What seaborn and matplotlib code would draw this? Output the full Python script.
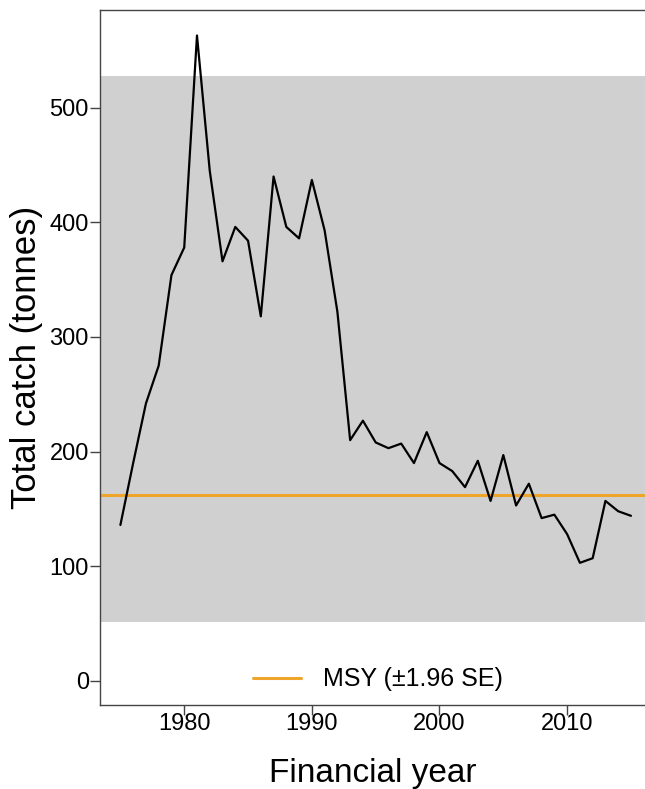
"""Total catch by financial year against MSY."""

import matplotlib
matplotlib.use("Agg")
import matplotlib.pyplot as plt
import numpy as np
import pandas as pd
import seaborn as sns

years = list(range(1975, 2016))
catch = [
    136, 190, 242, 275, 354, 378, 563, 445, 366, 396,
    384, 318, 440, 396, 386, 437, 393, 322, 210, 227,
    208, 203, 207, 190, 217, 190, 183, 169, 192, 157,
    197, 153, 172, 142, 145, 128, 103, 107, 157, 148,
    144,
]
msy = 162
msy_lower = 51
msy_upper = 528
yticks = [0, 100, 200, 300, 400, 500]
xticks = [1980, 1990, 2000, 2010]

df = pd.DataFrame({"year": years, "catch": catch})

sns.set_style("ticks")
plt.rcParams["font.family"] = ["Liberation Sans", "DejaVu Sans"]

fig = plt.figure(figsize=(6.45, 7.89), dpi=100)
ax = fig.add_axes([0.155, 0.1065, 0.845, 0.8805])

# MSY confidence band and point estimate
ax.axhspan(msy_lower, msy_upper, color="#d0d0d0", lw=0, zorder=0)
ax.axhline(msy, color="#efa52a", lw=2.2, zorder=2, label="MSY (\u00b11.96 SE)")

sns.lineplot(data=df, x="year", y="catch", color="black", lw=1.6, ax=ax, zorder=3)

ax.set_xlim(1973.4, 2016.1)
ax.set_ylim(-21, 585)
ax.set_xticks(xticks)
ax.set_yticks(yticks)
ax.tick_params(axis="both", labelsize=17, length=7, width=1, color="#444444",
               labelcolor="black")
ax.tick_params(axis="x", pad=-1)
ax.tick_params(axis="y", pad=1)
for side in ("left", "bottom", "top"):
    ax.spines[side].set_color("#444444")
    ax.spines[side].set_linewidth(1)
ax.spines["right"].set_visible(False)

ax.set_xlabel("Financial year", fontsize=24, labelpad=16, color="black")
ax.set_ylabel("Total catch (tonnes)", fontsize=25, labelpad=5, color="black")

ax.legend(loc="center", bbox_to_anchor=(0.51, 0.037), frameon=False,
          fontsize=18, handlelength=1.9, handletextpad=0.9, labelcolor="black")

fig.savefig("out.png", dpi=100)
